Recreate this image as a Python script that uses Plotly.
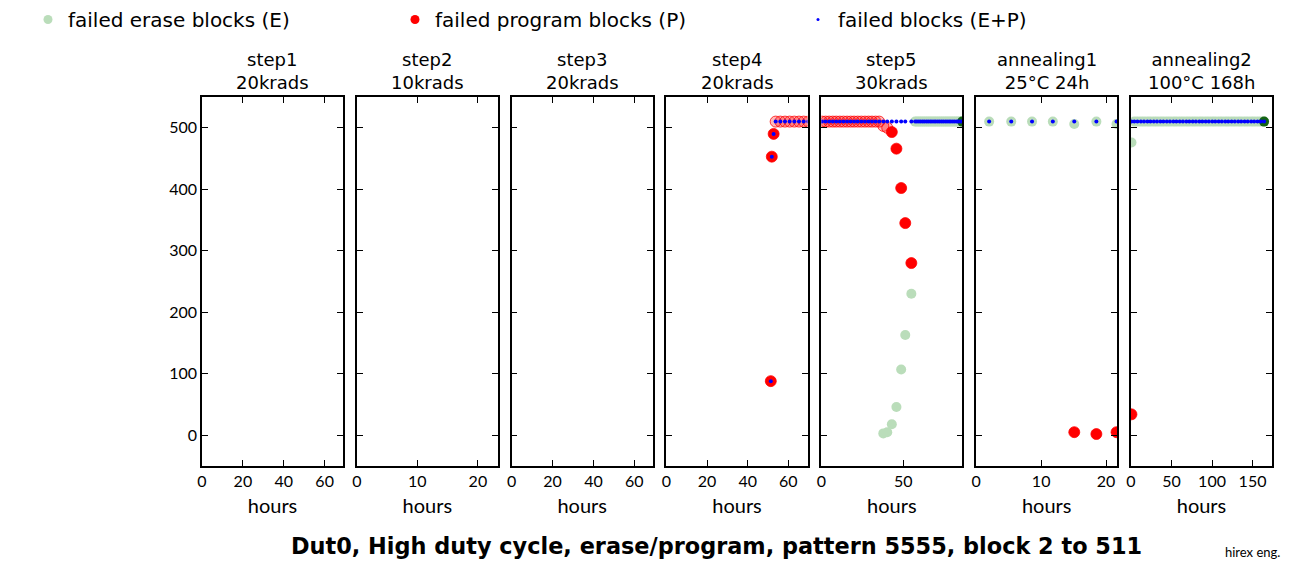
import plotly.graph_objects as go
from plotly.subplots import make_subplots

# panel headers and hour axis extents
panel_steps = ["step1", "step2", "step3", "step4", "step5", "annealing1", "annealing2"]
panel_conditions = ["20krads", "10krads", "20krads", "20krads", "30krads", "25°C 24h", "100°C 168h"]
panel_xmax = [69, 23.3, 69, 69.5, 86, 21.7, 174]
panel_dtick = [20, 10, 20, 20, 50, 10, 50]

# step1..step3: nothing failed
step1_hours, step1_erase, step1_program, step1_both = [], [], [], []
step2_hours, step2_erase, step2_program, step2_both = [], [], [], []
step3_hours, step3_erase, step3_program, step3_both = [], [], [], []

step4_hours = [51.4, 51.9, 52.8, 53.8, 56.1, 58.4, 60.7, 63.0, 65.3, 67.6, 69.9]
step4_erase = [None, None, None, None, None, None, None, None, None, None, None]
step4_program = [88, 453, 490, 510, 510, 510, 510, 510, 510, 510, 510]
step4_both = [88, 453, 490, 510, 510, 510, 510, 510, 510, 510, 510]

step5_hours = [0.4, 2.6, 4.8, 7.0, 9.1, 11.3, 13.5, 15.7, 17.9, 20.0, 22.2, 24.4, 26.6, 28.8, 30.9, 33.1, 35.3,
               37.8, 40.2, 43.0, 45.8, 48.7, 51.2, 54.9,
               57.2, 58.3, 59.5, 60.6, 61.8, 62.9, 64.1, 65.2, 66.4, 67.5, 68.7, 69.8, 71.0, 72.1, 73.3,
               74.4, 75.6, 76.7, 77.9, 79.0, 80.2, 81.3, 82.5, 83.6, 84.8, 85.9]
step5_erase = [None, None, None, None, None, None, None, None, None, None, None, None, None, None, None, None, None,
               3, 5, 18, 46, 107, 163, 230,
               510, 510, 510, 510, 510, 510, 510, 510, 510, 510, 510, 510, 510, 510, 510,
               510, 510, 510, 510, 510, 510, 510, 510, 510, 510, 510]
step5_program = [510, 510, 510, 510, 510, 510, 510, 510, 510, 510, 510, 510, 510, 510, 510, 510, 510,
                 503, 500, 493, 466, 402, 345, 280,
                 None, None, None, None, None, None, None, None, None, None, None, None, None, None, None,
                 None, None, None, None, None, None, None, None, None, None, None]
step5_both = [510, 510, 510, 510, 510, 510, 510, 510, 510, 510, 510, 510, 510, 510, 510, 510, 510,
              510, 510, 510, 510, 510, 510, 510,
              510, 510, 510, 510, 510, 510, 510, 510, 510, 510, 510, 510, 510, 510, 510,
              510, 510, 510, 510, 510, 510, 510, 510, 510, 510, 510]

anneal1_hours = [2.0, 5.4, 8.6, 11.8, 15.1, 18.5, 21.6]
anneal1_erase = [510, 510, 510, 510, 506, 510, 506]
anneal1_program = [None, None, None, None, 5, 2, 5]
anneal1_both = [510, 510, 510, 510, 510, 510, 510]

anneal2_hours = [0.6, 4.1, 8.0, 12.2, 16.1, 20.3, 24.0, 28.2, 32.1, 36.3, 40.0, 44.2, 48.1, 52.3,
                 56.0, 60.2, 64.1, 68.3, 72.0, 76.2, 80.1, 84.3, 88.0, 92.2, 96.1, 100.3, 104.0, 108.2,
                 112.1, 116.3, 120.0, 124.2, 128.1, 132.3, 136.0, 140.2, 144.1, 148.3, 152.0, 156.2, 160.1, 164.2]
anneal2_erase = [476, 510, 510, 510, 510, 510, 510, 510, 510, 510, 510, 510, 510, 510,
                 510, 510, 510, 510, 510, 510, 510, 510, 510, 510, 510, 510, 510, 510,
                 510, 510, 510, 510, 510, 510, 510, 510, 510, 510, 510, 510, 510, 510]
anneal2_program = [34, None, None, None, None, None, None, None, None, None, None, None, None, None,
                   None, None, None, None, None, None, None, None, None, None, None, None, None, None,
                   None, None, None, None, None, None, None, None, None, None, None, None, None, None]
anneal2_both = [510, 510, 510, 510, 510, 510, 510, 510, 510, 510, 510, 510, 510, 510,
                510, 510, 510, 510, 510, 510, 510, 510, 510, 510, 510, 510, 510, 510,
                510, 510, 510, 510, 510, 510, 510, 510, 510, 510, 510, 510, 510, 510]

panels = [
    (step1_hours, step1_erase, step1_program, step1_both),
    (step2_hours, step2_erase, step2_program, step2_both),
    (step3_hours, step3_erase, step3_program, step3_both),
    (step4_hours, step4_erase, step4_program, step4_both),
    (step5_hours, step5_erase, step5_program, step5_both),
    (anneal1_hours, anneal1_erase, anneal1_program, anneal1_both),
    (anneal2_hours, anneal2_erase, anneal2_program, anneal2_both),
]
# panels whose final erase reading is drawn solid
dark_end = {"step5", "annealing2"}

TICKFONT = dict(family="Lato", size=16, color="black")
GREEN = "rgb(0,128,0)"

W, H = 1295, 562

fig = make_subplots(rows=1, cols=7, horizontal_spacing=0.0129)

for i, (hours, erase, program, both) in enumerate(panels):
    col = i + 1
    fig.add_trace(go.Scatter(x=hours, y=erase, mode="markers", opacity=0.27,
                             marker=dict(color=GREEN, size=10), showlegend=False,
                             hoverinfo="skip"), row=1, col=col)
    if panel_steps[i] in dark_end and hours:
        fig.add_trace(go.Scatter(x=hours[-1:], y=erase[-1:], mode="markers",
                                 marker=dict(color="rgb(20,100,20)", size=10), showlegend=False),
                      row=1, col=col)
    fills = ["rgba(255,0,0,0.28)" if (v is not None and v >= 500) else "red" for v in program]
    fig.add_trace(go.Scatter(x=hours, y=program, mode="markers",
                             marker=dict(color=fills, size=11,
                                         line=dict(color="rgba(255,0,0,0.75)", width=1)),
                             showlegend=False), row=1, col=col)
    fig.add_trace(go.Scatter(x=hours, y=both, mode="markers",
                             marker=dict(color="blue", size=4), showlegend=False),
                  row=1, col=col)

    fig.update_xaxes(range=[0, panel_xmax[i]], dtick=panel_dtick[i], tick0=0, row=1, col=col)

# legend entries
fig.add_trace(go.Scatter(x=[None], y=[None], mode="markers", name="failed erase blocks (E)",
                         marker=dict(color="rgba(0,128,0,0.27)", size=9), legend="legend"),
              row=1, col=1)
fig.add_trace(go.Scatter(x=[None], y=[None], mode="markers", name="failed program blocks (P)",
                         marker=dict(color="red", size=9), legend="legend2"), row=1, col=1)
fig.add_trace(go.Scatter(x=[None], y=[None], mode="markers", name="failed blocks (E+P)",
                         marker=dict(color="blue", size=3), legend="legend3"), row=1, col=1)

axis_style = dict(showline=True, linecolor="black", linewidth=1.5, mirror="ticks",
                  ticks="inside", ticklen=6, tickwidth=1, tickcolor="black",
                  showgrid=False, zeroline=False, tickfont=TICKFONT)
fig.update_xaxes(**axis_style, title=dict(text="hours", font=dict(family="Lato", size=20, color="black"),
                                          standoff=10))
fig.update_yaxes(**axis_style, range=[-50, 550], dtick=100, tick0=0, showticklabels=False)
fig.update_yaxes(showticklabels=True, row=1, col=1)

# two-line panel titles
for i in range(7):
    dom = fig.layout[f"xaxis{i + 1 if i else ''}"].domain
    fig.add_annotation(x=(dom[0] + dom[1]) / 2, y=1, xref="paper", yref="paper",
                       xanchor="center", yanchor="bottom", yshift=2, showarrow=False,
                       text=f"{panel_steps[i]}<br>{panel_conditions[i]}",
                       font=dict(family="DejaVu Sans", size=18, color="black"))

fig.add_annotation(x=0.481, y=-0.2168, xref="paper", yref="paper", showarrow=False,
                   xanchor="center", yanchor="middle",
                   text="<b>Dut0, High duty cycle, erase/program, pattern 5555, block 2 to 511</b>",
                   font=dict(family="DejaVu Sans", size=22.4, color="black"))
fig.add_annotation(x=1.0093, y=-0.233, xref="paper", yref="paper", xanchor="right", yanchor="middle",
                   showarrow=False, text="hirex eng.", font=dict(family="Lato", size=13, color="black"))

legend_font = dict(family="DejaVu Sans", size=20, color="black")
leg = dict(orientation="h", xref="container", yref="container", yanchor="top", y=1,
           bgcolor="rgba(0,0,0,0)", font=legend_font)
fig.update_layout(
    width=W, height=H,
    margin=dict(l=202, r=23, t=97, b=96),
    plot_bgcolor="white", paper_bgcolor="white",
    legend=dict(leg, x=28 / W),
    legend2=dict(leg, x=395 / W),
    legend3=dict(leg, x=798 / W),
)

# drop the page's default 8px body margin so the figure sits at the window corner
fig.write_html("out.html", config={"displayModeBar": False},
               post_script="document.body.style.margin = '0';")
